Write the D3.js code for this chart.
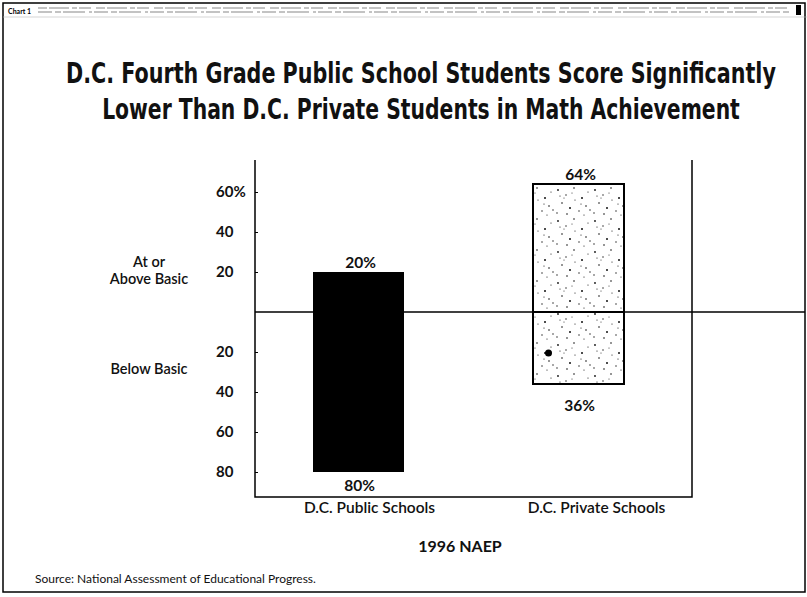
<!DOCTYPE html>
<html><head><meta charset="utf-8">
<script src="https://cdn.jsdelivr.net/npm/d3@7"></script>
<style>body{margin:0;background:#fff}svg{display:block}</style>
</head><body>
<script>
const categories = ["D.C. Public Schools", "D.C. Private Schools"];
const atOrAbove = [20, 64];
const belowBasic = [80, 36];
const tickValues = [60, 40, 20, -20, -40, -60, -80];
const tickLabels = ["60%", "40", "20", "20", "40", "60", "80"];
const titleLines = ["D.C. Fourth Grade Public School Students Score Significantly",
                    "Lower Than D.C. Private Students in Math Achievement"];
const xTitle = "1996 NAEP";
const source = "Source: National Assessment of Educational Progress.";

const W = 807, H = 597;
const svg = d3.select("body").append("svg").attr("width", W).attr("height", H);
const FONT = "Lato, 'Open Sans', sans-serif";

// stipple pattern
const defs = svg.append("defs");
const pat = defs.append("pattern").attr("id","stip").attr("patternUnits","userSpaceOnUse")
  .attr("width",37).attr("height",31);
pat.append("rect").attr("width",37).attr("height",31).attr("fill","#fff");
const dots = [[3,4,0.9],[11,9,0.7],[19,2,0.8],[27,12,1],[33,6,0.6],[7,17,0.8],[15,22,1],[24,25,0.7],[31,20,0.8],[2,27,0.7],[20,14,0.6],[12,28,0.8],[29,29,0.6],[9,12,0.5],[35,24,0.7],[5,10,0.6],[17,7,0.5],[26,18,0.6]];
dots.forEach(d=>pat.append("circle").attr("cx",d[0]).attr("cy",d[1]).attr("r",d[2]).attr("fill","#111"));

// outer frame / header strip
svg.append("rect").attr("x",3).attr("y",3).attr("width",W-5).attr("height",589)
  .attr("fill","none").attr("stroke","#000").attr("stroke-width",1.5);
svg.append("line").attr("x1",3).attr("x2",W).attr("y1",17).attr("y2",17).attr("stroke","#bbb").attr("stroke-width",0.6);
svg.append("text").attr("x",8).attr("y",14).attr("font-family",FONT).attr("font-size",7).attr("font-weight","bold").text("Chart 1");
[8,12].forEach((yy,i)=>svg.append("line").attr("x1",38).attr("x2",790).attr("y1",yy).attr("y2",yy)
  .attr("stroke","#888").attr("stroke-width",1.2).attr("stroke-dasharray", i? "14 3 6 2 22 4 3 2":"9 2 20 3 5 2 12 5"));
svg.append("rect").attr("x",796).attr("y",5).attr("width",5).attr("height",10).attr("fill","#000");

// title: tall condensed look via horizontal scaling
const targetW = [710, 638];
svg.append("g").selectAll("text").data(titleLines).join("text")
  .attr("text-anchor","middle")
  .attr("font-family","'DejaVu Sans Condensed','DejaVu Sans',sans-serif")
  .attr("font-weight","bold").attr("font-size",28)
  .attr("fill","#111").text(d=>d)
  .each(function(d,i){
    const w = this.getComputedTextLength();
    d3.select(this).attr("transform", `translate(421,${83+i*36}) scale(${targetW[i]/w},1)`);
  });

// scales
const y = d3.scaleLinear().domain([76, -92.5]).range([160, 497]);
const x = d3.scalePoint().domain(categories).range([358.5, 578.5]);
const bw = 91;
const left = 255, right = 692;

// bars
const g = svg.append("g");
g.selectAll("rect.below").data(categories).join("rect")
  .attr("x",d=>x(d)-bw/2).attr("width",bw)
  .attr("y",y(0)).attr("height",(d,i)=>y(-belowBasic[i])-y(0))
  .attr("fill",(d,i)=>i?"url(#stip)":"#000")
  .attr("stroke","#000").attr("stroke-width",(d,i)=>i?2:0);
g.selectAll("rect.above").data(categories).join("rect")
  .attr("x",d=>x(d)-bw/2).attr("width",bw)
  .attr("y",(d,i)=>y(atOrAbove[i])).attr("height",(d,i)=>y(0)-y(atOrAbove[i]))
  .attr("fill",(d,i)=>i?"url(#stip)":"#000")
  .attr("stroke","#000").attr("stroke-width",(d,i)=>i?2:0);
g.append("circle").attr("cx",x(categories[1])-30).attr("cy",y(-20.5)).attr("r",3.5).attr("fill","#000");

// zero line (runs to the right frame)
svg.append("line").attr("x1",left).attr("x2",805).attr("y1",y(0)).attr("y2",y(0))
  .attr("stroke","#000").attr("stroke-width",1.5);

// box: left, right, bottom
svg.append("path").attr("d",`M${left},${y(76)}V${y(-92.5)}H${right}V${y(76)}`)
  .attr("fill","none").attr("stroke","#000").attr("stroke-width",1.5);

// y axis ticks
const axis = d3.axisRight(y).tickValues(tickValues).tickSize(3).tickFormat("");
const ag = svg.append("g").attr("transform",`translate(${left},0)`).call(axis);
ag.select(".domain").remove();
svg.append("g").selectAll("text").data(tickValues).join("text")
  .attr("x",216).attr("y",d=>y(d)).attr("dy","0.36em")
  .attr("font-family",FONT).attr("font-weight","bold").attr("font-size",15)
  .attr("fill","#111").text((d,i)=>tickLabels[i]);

// side labels
const side = svg.append("g").attr("font-family",FONT).attr("font-size",14.5).attr("font-weight","600")
  .attr("text-anchor","middle").attr("fill","#111");
side.append("text").attr("x",149).attr("y",267).text("At or");
side.append("text").attr("x",149).attr("y",284).text("Above Basic");
side.append("text").attr("x",149).attr("y",374).text("Below Basic");

// value labels
const vl = svg.append("g").attr("font-family",FONT).attr("font-weight","bold").attr("font-size",15.5)
  .attr("text-anchor","middle").attr("fill","#111");
vl.selectAll("text.a").data(categories).join("text")
  .attr("x",d=>x(d)+2).attr("y",(d,i)=>y(atOrAbove[i])-4).text((d,i)=>atOrAbove[i]+"%");
vl.selectAll("text.b").data(categories).join("text").attr("class","b")
  .attr("x",d=>x(d)+1).attr("y",(d,i)=>y(-belowBasic[i])+(i?27:19)).text((d,i)=>belowBasic[i]+"%");

// category labels
svg.append("g").selectAll("text").data(categories).join("text")
  .attr("x",(d,i)=>x(d)+(i?18:11)).attr("y",513).attr("text-anchor","middle")
  .attr("font-family",FONT).attr("font-weight","600").attr("font-size",15.5).attr("fill","#111")
  .text(d=>d);
svg.append("text").attr("x",460).attr("y",552).attr("text-anchor","middle")
  .attr("font-family",FONT).attr("font-weight","bold").attr("font-size",16).attr("fill","#111").text(xTitle);

svg.append("text").attr("x",35).attr("y",583).attr("font-family",FONT).attr("font-size",12)
  .attr("fill","#111").text(source);
</script>
</body></html>
